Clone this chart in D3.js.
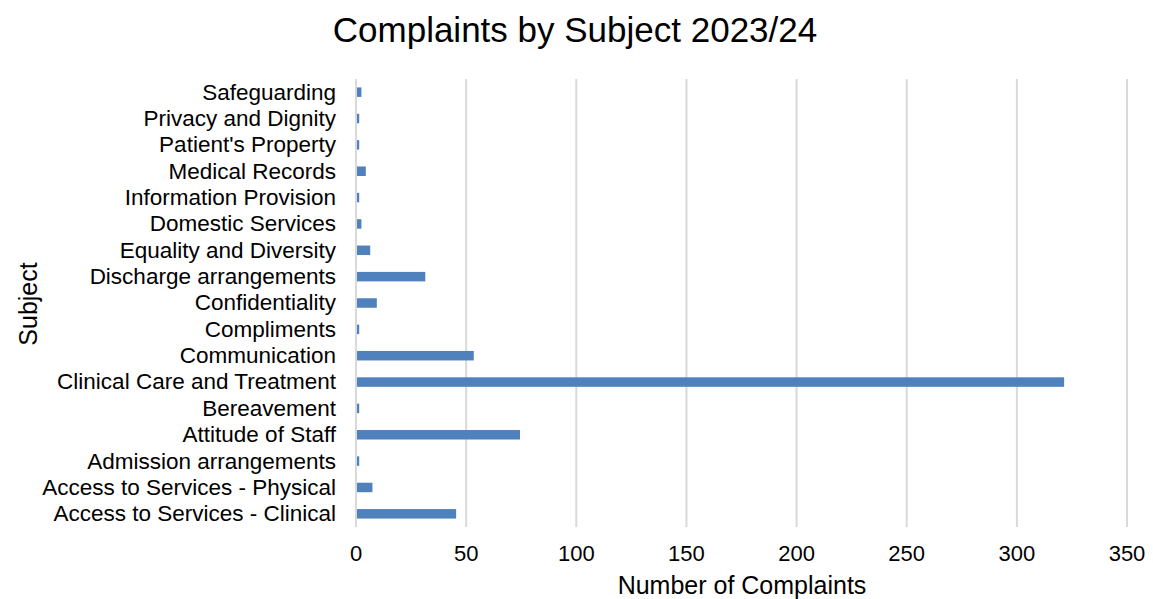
<!DOCTYPE html>
<html>
<head>
<meta charset="utf-8">
<script src="https://cdn.jsdelivr.net/npm/d3@7"></script>
<style>
  body { margin: 0; background: #fff; }
  text { font-family: "Liberation Sans", Arial, sans-serif; fill: #000; }
</style>
</head>
<body>
<svg id="chart" width="1153" height="599"></svg>
<script>
// Complaint subjects, top to bottom
const subjects = [
  "Safeguarding",
  "Privacy and Dignity",
  "Patient's Property",
  "Medical Records",
  "Information Provision",
  "Domestic Services",
  "Equality and Diversity",
  "Discharge arrangements",
  "Confidentiality",
  "Compliments",
  "Communication",
  "Clinical Care and Treatment",
  "Bereavement",
  "Attitude of Staff",
  "Admission arrangements",
  "Access to Services - Physical",
  "Access to Services - Clinical"
];
const complaints = [2, 1, 1, 4, 1, 2, 6, 31, 9, 1, 53, 321, 1, 74, 1, 7, 45];
const xTicks = [0, 50, 100, 150, 200, 250, 300, 350];

const svg = d3.select("#chart");
const plot = { left: 356, right: 1127, top: 79, bottom: 527 };

const x = d3.scaleLinear().domain([0, 350]).range([plot.left, plot.right]);
const y = d3.scaleBand().domain(subjects).range([plot.top, plot.bottom]).paddingInner(0.64).paddingOuter(0.32);

// vertical gridlines
svg.append("g").selectAll("line").data(xTicks).join("line")
  .attr("x1", d => x(d)).attr("x2", d => x(d))
  .attr("y1", plot.top).attr("y2", plot.bottom)
  .attr("stroke", "#d9d9d9").attr("stroke-width", 2);

// bars
svg.append("g").selectAll("rect").data(subjects).join("rect")
  .attr("x", x(0) + 1)
  .attr("y", d => y(d))
  .attr("width", (d, i) => Math.max(0, x(complaints[i]) - x(0)))
  .attr("height", y.bandwidth())
  .attr("fill", "#4f81bd");

// category labels
svg.append("g").selectAll("text").data(subjects).join("text")
  .attr("x", 336)
  .attr("y", d => y(d) + y.bandwidth() / 2)
  .attr("dy", "0.33em")
  .attr("text-anchor", "end")
  .attr("font-size", 22.5)
  .text(d => d);

// x tick labels
svg.append("g").selectAll("text").data(xTicks).join("text")
  .attr("x", d => x(d))
  .attr("y", 561)
  .attr("text-anchor", "middle")
  .attr("font-size", 22)
  .text(d => d);

// titles
svg.append("text")
  .attr("x", 575).attr("y", 42)
  .attr("text-anchor", "middle")
  .attr("font-size", 35)
  .text("Complaints by Subject 2023/24");

svg.append("text")
  .attr("x", 742).attr("y", 594)
  .attr("text-anchor", "middle")
  .attr("font-size", 25)
  .text("Number of Complaints");

svg.append("text")
  .attr("transform", "translate(37,304) rotate(-90)")
  .attr("text-anchor", "middle")
  .attr("font-size", 25)
  .text("Subject");
</script>
</body>
</html>
